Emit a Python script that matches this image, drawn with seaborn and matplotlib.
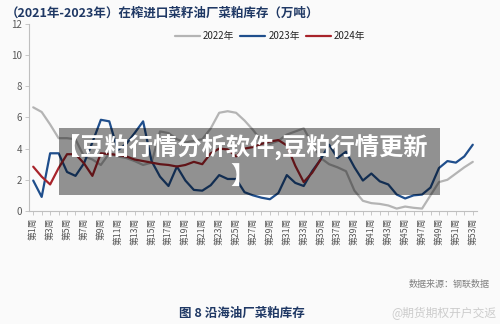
import matplotlib
matplotlib.use('Agg')
import matplotlib.pyplot as plt
from matplotlib.patches import Rectangle
from matplotlib.lines import Line2D
import seaborn as sns
import pandas as pd

# weekly inventory (万吨)
weeks = list(range(1, 54))
s2022 = [6.65, 6.35, 5.55, 4.67, 4.67, 4.6, 3.5, 3.3, 2.95, 3.7,
         3.5, 3.4, 3.2, 2.95, 3.1, 5.1, 5.0, 4.6, 4.4, 4.5,
         4.6, 5.3, 6.3, 6.4, 6.3, 5.8, 5.2, 4.5, 4.3, 4.5,
         4.9, 5.1, 5.3, 4.3, 3.4, 3.0, 2.8, 2.55, 1.3, 0.65,
         0.5, 0.45, 0.35, 0.15, 0.28, 0.2, 0.15, 1.0, 1.85, 2.0,
         2.4, 2.8, 3.15]
s2023 = [1.95, 0.9, 3.7, 3.7, 2.5, 2.25, 3.05, 4.4, 5.85, 5.75,
         3.9, 4.3, 5.0, 5.75, 3.2, 2.2, 1.6, 2.85, 1.95, 1.35,
         1.3, 1.65, 2.3, 2.05, 2.05, 1.2, 1.0, 0.85, 0.75, 1.15,
         2.3, 1.8, 1.6, 2.55, 3.3, 4.25, 3.4, 3.8, 2.8, 1.95,
         2.4, 1.9, 1.7, 1.05, 0.8, 1.0, 1.05, 1.5, 2.75, 3.2,
         3.1, 3.5, 4.25]
s2024 = [2.84, 2.2, 1.7, 2.75, 3.64, 3.64, 3.06, 2.25, 3.7, 3.65,
         3.6, 3.5, 3.3, 3.2, 3.1, 3.0, 2.95, 2.85, 2.95, 3.15,
         3.0, 3.7, 4.0, 3.95, 3.5, 4.0, 4.1, 4.3, 4.45, 4.55,
         4.2, 2.9, 1.85, 2.45, 3.3]
series_names = ['2022年', '2023年', '2024年']
colors = ['#b4b4b4', '#1f4e8c', '#a8232a']

tick_labels = [f'第{w}周' if w % 2 == 1 else '' for w in weeks]
y_ticks = [0, 2, 4, 6, 8, 10, 12]

title = '（2021年-2023年）在榨进口菜籽油厂菜粕库存（万吨）'
caption = '图 8 沿海油厂菜粕库存'
source = '数据来源：钢联数据'
overlay_line1 = '【豆粕行情分析软件,豆粕行情更新'
overlay_line2 = '】'
weibo = '@期货期权开户交返'


def build_frame():
    frames = []
    for name, vals in zip(series_names, [s2022, s2023, s2024]):
        frames.append(pd.DataFrame({'week': weeks[:len(vals)], 'value': vals, 'year': name}))
    return pd.concat(frames, ignore_index=True)


def main():
    sns.set_theme(style='white')
    plt.rcParams['font.family'] = ['Noto Sans CJK SC', 'DejaVu Sans']
    plt.rcParams['axes.unicode_minus'] = False

    df = build_frame()
    bg = '#fafafa'
    fig = plt.figure(figsize=(5.0, 3.24), dpi=100, facecolor=bg)
    ax = fig.add_axes([0.058, 0.349, 0.896, 0.577], facecolor=bg)

    sns.lineplot(data=df, x='week', y='value', hue='year', hue_order=series_names,
                 palette=colors, linewidth=1.6, legend=False, ax=ax)

    ax.set_xlim(0.5, 53.5)
    ax.set_ylim(0, 12)
    ax.set_xticks(weeks)
    ax.set_xticklabels(tick_labels, rotation=90, fontsize=6.3, color='#595959')
    ax.set_yticks(y_ticks)
    ax.set_yticklabels([str(v) for v in y_ticks], fontsize=7, color='#595959')
    ax.set_xlabel('')
    ax.set_ylabel('')
    ax.tick_params(axis='both', which='major', length=3, width=0.6, color='#bfbfbf', pad=2)
    ax.tick_params(axis='x', direction='out', bottom=True)
    ax.tick_params(axis='y', direction='out', left=True)
    for side in ['top', 'right']:
        ax.spines[side].set_visible(False)
    for side in ['left', 'bottom']:
        ax.spines[side].set_color('#bfbfbf')
        ax.spines[side].set_linewidth(0.8)

    handles = [Line2D([0], [0], color=c, lw=1.6) for c in colors]
    fig.legend(handles, series_names, loc='center', bbox_to_anchor=(0.54, 1 - 36 / 324),
               ncol=3, frameon=False, fontsize=7, handlelength=2.6,
               handletextpad=0.3, columnspacing=0.6)

    fig.text(0.012, 1 - 13 / 324, title, fontsize=9, fontweight='bold',
             color='#1f3864', va='center', ha='left')
    fig.text(490 / 500, 1 - 284 / 324, source, fontsize=6.5, style='italic',
             color='#808080', va='center', ha='right')
    fig.text(242 / 500, 1 - 313 / 324, caption, fontsize=9, fontweight='bold',
             color='#1f3864', va='center', ha='center')
    fig.text(497 / 500, 1 - 313 / 324, weibo, fontsize=8.5,
             color='#cccccc', va='center', ha='right')

    # grey banner over the middle of the chart
    fig.add_artist(Rectangle((59 / 500, 1 - 195 / 324), 381 / 500, 67 / 324,
                             transform=fig.transFigure, facecolor='black',
                             alpha=0.42, edgecolor='none', zorder=10))
    fig.text(242 / 500, 1 - 148 / 324, overlay_line1, fontsize=17.5, fontweight='bold',
             color='white', va='center', ha='center', zorder=11)
    fig.text(242 / 500, 1 - 177 / 324, overlay_line2, fontsize=17.5, fontweight='bold',
             color='white', va='center', ha='center', zorder=11)

    fig.savefig('out.png', dpi=100, facecolor=bg)
    plt.close(fig)


if __name__ == '__main__':
    main()
